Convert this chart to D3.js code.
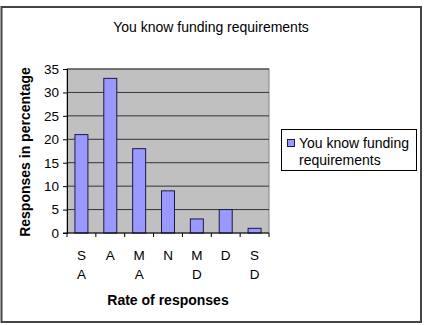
<!DOCTYPE html>
<html>
<head>
<meta charset="utf-8">
<script src="https://cdn.jsdelivr.net/npm/d3@7"></script>
<style>
  body { margin: 0; background: #fff; }
  svg text { font-family: "Liberation Sans", Arial, sans-serif; fill: #000; }
</style>
</head>
<body>
<div id="chart"></div>
<script>
const categories = ['SA', 'A', 'MA', 'N', 'MD', 'D', 'SD']
const values = [21, 33, 18, 9, 3, 5, 1]
const yTicks = [0, 5, 10, 15, 20, 25, 30, 35]
const seriesName = 'You know funding requirements'

const width = 424
const height = 325
const plot = { left: 67, right: 269, top: 69, bottom: 233 }

const svg = d3.select('#chart')
  .append('svg')
  .attr('width', width)
  .attr('height', height)

// outer frame
svg.append('rect')
  .attr('x', 1.5)
  .attr('y', 7)
  .attr('width', 419.5)
  .attr('height', 315)
  .attr('fill', '#fff')
  .attr('stroke', '#444')
  .attr('stroke-width', 2)

svg.append('text')
  .attr('x', 211)
  .attr('y', 32)
  .attr('text-anchor', 'middle')
  .style('font-size', '14px')
  .text('You know funding requirements')

const x = d3.scaleBand()
  .domain(categories)
  .range([plot.left, plot.right])

const y = d3.scaleLinear()
  .domain([0, 35])
  .range([plot.bottom, plot.top])

svg.append('rect')
  .attr('x', plot.left)
  .attr('y', plot.top)
  .attr('width', plot.right - plot.left)
  .attr('height', plot.bottom - plot.top)
  .attr('fill', '#c0c0c0')
  .attr('stroke', '#808080')
  .attr('stroke-width', 1)

svg.append('g')
  .selectAll('line')
  .data(yTicks.filter((d) => d > 0))
  .enter()
  .append('line')
  .attr('x1', plot.left)
  .attr('x2', plot.right)
  .attr('y1', (d) => y(d))
  .attr('y2', (d) => y(d))
  .attr('stroke', '#333')
  .attr('stroke-width', 1)

const barW = x.bandwidth() * 0.45
svg.append('g')
  .selectAll('rect')
  .data(values)
  .enter()
  .append('rect')
  .attr('x', (d, i) => x(categories[i]) + (x.bandwidth() - barW) / 2)
  .attr('y', (d) => y(d))
  .attr('width', barW)
  .attr('height', (d) => y(0) - y(d))
  .attr('fill', '#9999ff')
  .attr('stroke', '#1a1a40')
  .attr('stroke-width', 1)

// y axis
const yAxis = svg.append('g')
  .attr('transform', `translate(${plot.left}, 0)`)
  .call(d3.axisLeft(y).tickValues(yTicks).tickSize(4).tickPadding(4))
yAxis.select('.domain').attr('stroke', '#000')
yAxis.selectAll('.tick line').attr('stroke', '#000')
yAxis.selectAll('text')
  .style('font-size', '13.5px')
  .style('font-family', '"Liberation Sans", Arial, sans-serif')

// x axis: ticks between categories
svg.append('line')
  .attr('x1', plot.left - 4)
  .attr('x2', plot.right)
  .attr('y1', plot.bottom)
  .attr('y2', plot.bottom)
  .attr('stroke', '#000')

svg.append('g')
  .selectAll('line')
  .data(categories.concat(['end']))
  .enter()
  .append('line')
  .attr('x1', (d, i) => plot.left + i * x.step())
  .attr('x2', (d, i) => plot.left + i * x.step())
  .attr('y1', plot.bottom)
  .attr('y2', plot.bottom + 4)
  .attr('stroke', '#000')

const labels = svg.append('g')
  .selectAll('text')
  .data(categories)
  .enter()
  .append('text')
  .attr('text-anchor', 'middle')
  .style('font-size', '13.5px')
labels.selectAll('tspan')
  .data((d) => d.split(''))
  .enter()
  .append('tspan')
  .attr('x', function () {
    const c = d3.select(this.parentNode).datum()
    return x(c) + x.bandwidth() / 2
  })
  .attr('y', (d, i) => 260 + i * 19)
  .text((d) => d)

svg.append('text')
  .attr('x', 168)
  .attr('y', 305)
  .attr('text-anchor', 'middle')
  .style('font-size', '14px')
  .style('font-weight', 'bold')
  .text('Rate of responses')

svg.append('text')
  .attr('transform', `translate(30, ${(plot.top + plot.bottom) / 2 + 1}) rotate(-90)`)
  .attr('text-anchor', 'middle')
  .style('font-size', '14px')
  .style('font-weight', 'bold')
  .text('Responses in percentage')

// legend
const legend = svg.append('g')
legend.append('rect')
  .attr('x', 281.5)
  .attr('y', 129.5)
  .attr('width', 135)
  .attr('height', 41)
  .attr('fill', '#fff')
  .attr('stroke', '#000')
legend.append('rect')
  .attr('x', 287.5)
  .attr('y', 139.5)
  .attr('width', 7)
  .attr('height', 7)
  .attr('fill', '#9999ff')
  .attr('stroke', '#1a1a40')
const words = seriesName.split(' ')
legend.append('text')
  .attr('x', 299)
  .attr('y', 148)
  .style('font-size', '14px')
  .text(words.slice(0, 3).join(' '))
legend.append('text')
  .attr('x', 299)
  .attr('y', 165)
  .style('font-size', '14px')
  .text(words.slice(3).join(' '))
</script>
</body>
</html>
